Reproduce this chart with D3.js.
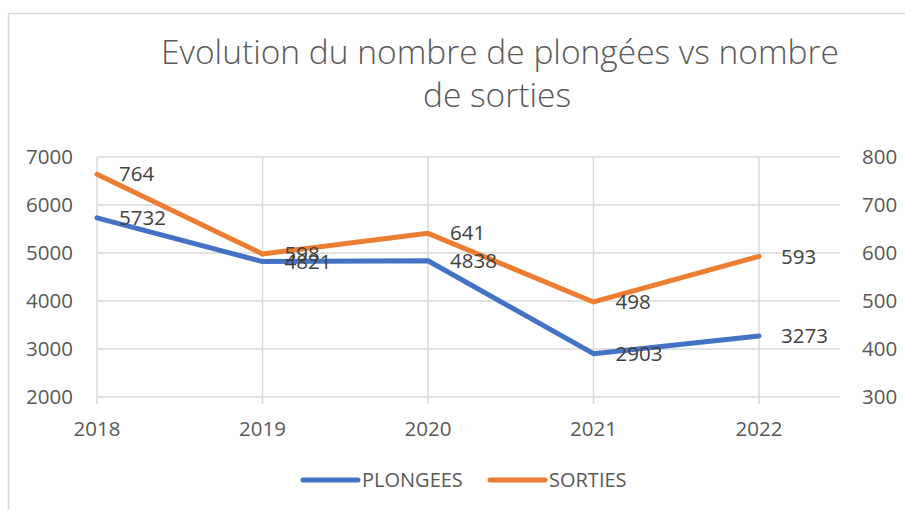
<!DOCTYPE html>
<html lang="fr">
<head>
<meta charset="utf-8">
<title>Plongées vs sorties</title>
<script src="https://cdn.jsdelivr.net/npm/d3@7"></script>
<style>
body{margin:0;background:#fff;}
text{font-family:"Open Sans",sans-serif;fill:#595959;}
</style>
</head>
<body>
<script>
// data
var years = ["2018","2019","2020","2021","2022"];
var plongees = [5732, 4821, 4838, 2903, 3273];
var sorties = [764, 598, 641, 498, 593];
var leftTicks = [2000, 3000, 4000, 5000, 6000, 7000];
var rightTicks = [300, 400, 500, 600, 700, 800];

var W = 905, H = 510;
var blue = "#4472c4", orange = "#ed7d31", grid = "#d9d9d9";

var svg = d3.select("body").append("svg")
  .attr("width", W).attr("height", H);

// chart border (only top/left visible in the crop)
svg.append("path")
  .attr("d", "M8.5," + H + "V13.5H" + W)
  .attr("fill", "none").attr("stroke", grid).attr("stroke-width", 1.5);

// title
var title = svg.append("text").attr("text-anchor", "middle")
  .attr("font-size", 33.5).attr("font-weight", 300);
title.append("tspan").attr("x", 500).attr("y", 64).text("Evolution du nombre de plongées vs nombre");
title.append("tspan").attr("x", 497).attr("y", 107).text("de sorties");

// scales: 2018 sits on the left edge, the plot runs half a step past 2022
var x = d3.scalePoint().domain(years).range([97, 759]);
var xEnd = 840;
var y = d3.scaleLinear().domain([2000, 7000]).range([397, 157]);
var y2 = d3.scaleLinear().domain([300, 800]).range([397, 157]);

// horizontal grid
svg.append("g").selectAll("line").data(leftTicks).enter().append("line")
  .attr("x1", 97).attr("x2", xEnd)
  .attr("y1", function(d){ return y(d); }).attr("y2", function(d){ return y(d); })
  .attr("stroke", grid).attr("stroke-width", 1.5);

// vertical grid with small tick below the axis
svg.append("g").selectAll("line").data(years).enter().append("line")
  .attr("x1", function(d){ return x(d); }).attr("x2", function(d){ return x(d); })
  .attr("y1", 157).attr("y2", 404)
  .attr("stroke", grid).attr("stroke-width", 1.5);

// left axis labels
svg.append("g").selectAll("text").data(leftTicks).enter().append("text")
  .attr("x", 73).attr("y", function(d){ return y(d); })
  .attr("dy", "0.35em").attr("text-anchor", "end").attr("font-size", 20.5)
  .text(function(d){ return d; });

// right axis labels
svg.append("g").selectAll("text").data(rightTicks).enter().append("text")
  .attr("x", 862).attr("y", function(d){ return y2(d); })
  .attr("dy", "0.35em").attr("font-size", 20.5)
  .text(function(d){ return d; });

// x labels
svg.append("g").selectAll("text").data(years).enter().append("text")
  .attr("x", function(d){ return x(d); }).attr("y", 436)
  .attr("text-anchor", "middle").attr("font-size", 20.5)
  .text(function(d){ return d; });

// lines
var line1 = d3.line().x(function(d, i){ return x(years[i]); }).y(function(d){ return y(d); });
var line2 = d3.line().x(function(d, i){ return x(years[i]); }).y(function(d){ return y2(d); });

svg.append("path").datum(plongees).attr("d", line1)
  .attr("fill", "none").attr("stroke", blue).attr("stroke-width", 5)
  .attr("stroke-linecap", "round").attr("stroke-linejoin", "round");
svg.append("path").datum(sorties).attr("d", line2)
  .attr("fill", "none").attr("stroke", orange).attr("stroke-width", 5)
  .attr("stroke-linecap", "round").attr("stroke-linejoin", "round");

// data labels, to the right of each point
svg.append("g").selectAll("text").data(plongees).enter().append("text")
  .attr("x", function(d, i){ return x(years[i]) + 22; })
  .attr("y", function(d){ return y(d); }).attr("dy", "0.35em")
  .attr("font-size", 20.5).style("fill", "#404040")
  .text(function(d){ return d; });
svg.append("g").selectAll("text").data(sorties).enter().append("text")
  .attr("x", function(d, i){ return x(years[i]) + 22; })
  .attr("y", function(d){ return y2(d); }).attr("dy", "0.35em")
  .attr("font-size", 20.5).style("fill", "#404040")
  .text(function(d){ return d; });

// legend
var legend = [{name: "PLONGEES", color: blue, x: 303}, {name: "SORTIES", color: orange, x: 490}];
var lg = svg.append("g").selectAll("g").data(legend).enter().append("g");
lg.append("line")
  .attr("x1", function(d){ return d.x; }).attr("x2", function(d){ return d.x + 55; })
  .attr("y1", 480).attr("y2", 480)
  .attr("stroke", function(d){ return d.color; }).attr("stroke-width", 5)
  .attr("stroke-linecap", "round");
lg.append("text")
  .attr("x", function(d){ return d.x + 59; }).attr("y", 480).attr("dy", "0.35em")
  .attr("font-size", 20)
  .text(function(d){ return d.name; });
</script>
</body>
</html>
